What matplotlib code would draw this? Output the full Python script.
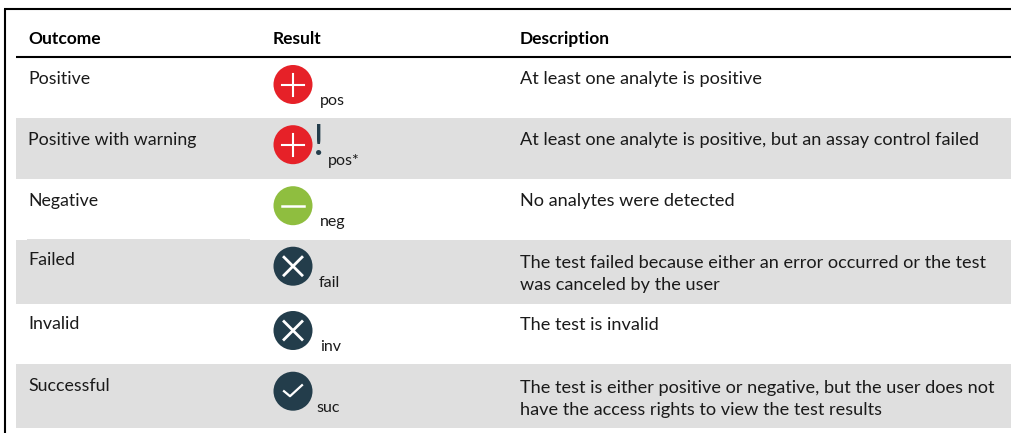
import matplotlib
matplotlib.use("Agg")
import matplotlib.pyplot as plt
from matplotlib.patches import Circle, Rectangle

plt.rcParams["font.family"] = ["Lato", "DejaVu Sans"]

headers = ["Outcome", "Result", "Description"]
outcomes = ["Positive", "Positive with warning", "Negative", "Failed", "Invalid", "Successful"]
codes = ["pos", "pos*", "neg", "fail", "inv", "suc"]
icons = ["plus", "plus", "minus", "cross", "cross", "check"]
icon_colors = ["#e62128", "#e62128", "#8fbe3f", "#233d4b", "#233d4b", "#233d4b"]
descriptions = [
    "At least one analyte is positive",
    "At least one analyte is positive, but an assay control failed",
    "No analytes were detected",
    "The test failed because either an error occurred or the test\nwas canceled by the user",
    "The test is invalid",
    "The test is either positive or negative, but the user does not\nhave the access rights to view the test results",
]

# pixel positions
row_tops = [58, 118, 179, 240, 304, 364]
row_bottoms = [118, 179, 240, 304, 364, 428]
outcome_base = [84, 145, 206, 265, 329, 391]
desc_base = [84, 145, 206, 290, 330, 415]
icon_y = [84.5, 144.7, 205.7, 266.2, 330.5, 391.2]
code_x = [320, 328, 320, 319, 320, 316]
code_base = [105, 165, 226, 287, 351, 412]

fig = plt.figure(figsize=(10.11, 4.33), dpi=100)
ax = fig.add_axes([0, 0, 1, 1])
ax.set_xlim(0, 1011)
ax.set_ylim(433, 0)
ax.axis("off")

# grey bands on every other row
for i in range(1, 6, 2):
    ax.add_patch(Rectangle((16, row_tops[i]), 995, row_bottoms[i] - row_tops[i], color="#dfdfdf", lw=0))
ax.add_patch(Rectangle((27, 238.7), 223, 2, color="#dfdfdf", lw=0))

# outer frame and header rule
ax.plot([5, 5], [433, 9], color="black", lw=1.5, solid_capstyle="butt")
ax.plot([4, 1011], [9, 9], color="black", lw=1.5, solid_capstyle="butt")
ax.plot([16, 1011], [57, 57], color="black", lw=1.5, solid_capstyle="butt")

for x, h in zip([28, 273, 520], headers):
    ax.text(x, 43.7, h, fontsize=12.5, fontweight="bold", color="black", va="baseline")

for i in range(6):
    ax.text(28, outcome_base[i], outcomes[i], fontsize=12.8, color="#1a1a1a", va="baseline")
    ax.text(520, desc_base[i], descriptions[i], fontsize=13.1, color="#1a1a1a", va="baseline", linespacing=1.47)
    ax.text(code_x[i], code_base[i], codes[i], fontsize=11.5, color="#1a1a1a", va="baseline")

    cx, cy = 293, icon_y[i]
    ax.add_patch(Circle((cx, cy), 19.5, color=icon_colors[i], lw=0, zorder=3))
    if icons[i] == "plus":
        ax.plot([cx - 11, cx + 11], [cy, cy], color="white", lw=1.5, zorder=4)
        ax.plot([cx, cx], [cy - 11, cy + 11], color="white", lw=1.5, zorder=4)
    if icons[i] == "minus":
        ax.plot([cx - 11, cx + 11], [cy, cy], color="white", lw=1.8, zorder=4)
    if icons[i] == "cross":
        ax.plot([cx - 9, cx + 9], [cy - 9, cy + 9], color="white", lw=2, zorder=4)
        ax.plot([cx - 9, cx + 9], [cy + 9, cy - 9], color="white", lw=2, zorder=4)
    if icons[i] == "check":
        ax.plot([cx - 9, cx - 3, cx + 9], [cy, cy + 5, cy - 6], color="white", lw=1.6, zorder=4)
    if i == 1:
        ax.text(318.5, 155, "!", fontsize=30, color="#233d4b", ha="center", va="baseline")

fig.savefig("out.png", dpi=100)
